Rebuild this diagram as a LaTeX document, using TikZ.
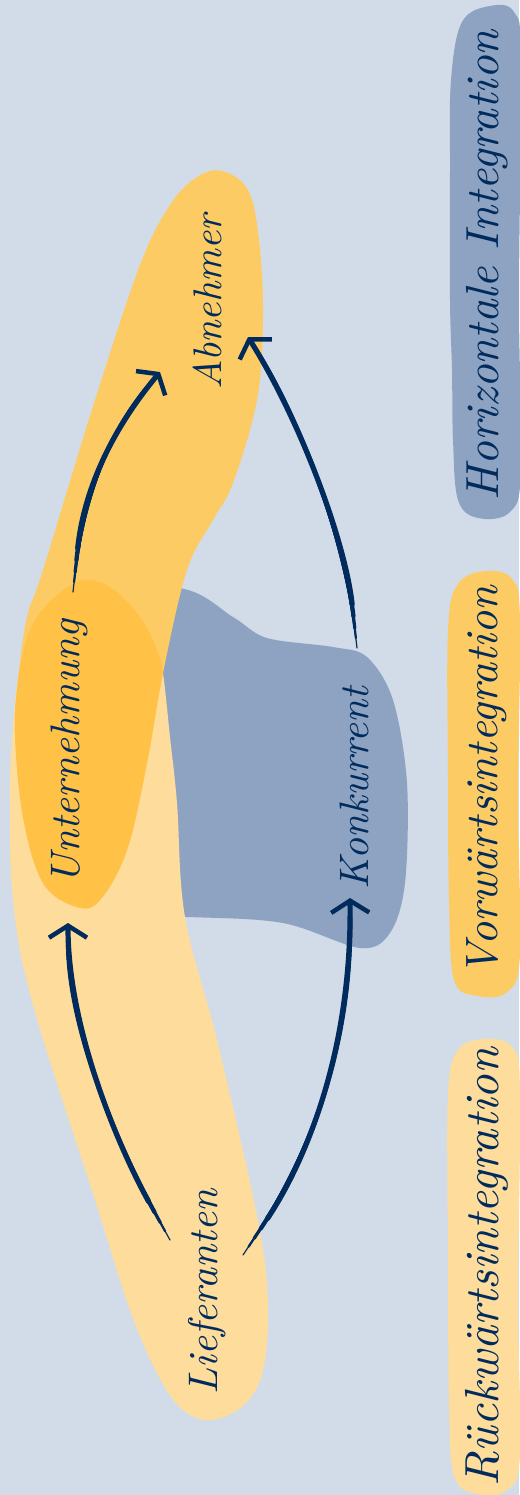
\documentclass[tikz,border=0pt]{standalone}
\usepackage{graphicx}
\usetikzlibrary{arrows.meta}
\definecolor{bgc}{HTML}{D2DCE8}
\definecolor{lorange}{HTML}{FEDC9B}
\definecolor{morange}{HTML}{FDCB64}
\definecolor{dorange}{HTML}{FFC146}
\definecolor{bluec}{HTML}{8DA3C1}
\definecolor{navy}{HTML}{002B5C}
\tikzset{
  lbl/.style={inner sep=0pt, text=navy, rotate=90},
  brush/.style={draw=navy, line cap=round, line join=round},
  tipped/.style={brush, line width=5.2pt, shorten <=44pt,
     -{Straight Barb[length=12pt,width=38pt,line width=4.5pt]}},
  taper/.style n args={2}{brush, line width=#1, shorten <=#2, shorten >=20pt}
}
\newcommand{\vorpath}{plot[smooth cycle, tension=0.6] coordinates {
 (222,171) (248,190) (259,240) (263,317) (257,400) (233,483) (213,520)
 (187,570) (163,673) (147,763) (127,850) (100,900) (77,907) (43,883)
 (23,817) (15,733) (18,680) (27,617) (43,570) (95,400) (140,265) (170,205) (197,177)}}
\newcommand{\ruepath}{plot[smooth cycle, tension=0.6] coordinates {
 (163,673) (157,650) (140,617) (110,587) (77,582) (37,617) (20,667)
 (12,740) (10,800) (13,900) (33,1005) (95,1200) (130,1310) (158,1375)
 (183,1410) (212,1420) (245,1404) (263,1370) (268,1303) (257,1216) (217,1040) (185,917) (177,803) (170,737)}}
\begin{document}
\begin{tikzpicture}[x=1pt,y=-1pt]
\useasboundingbox (0,0) rectangle (519,1495);
\fill[bgc] (0,0) rectangle (519,1495);
% legend blobs
\fill[bluec] plot[smooth cycle, tension=0.6] coordinates {
 (451,80) (462,22) (490,6) (514,12) (521,60) (519,300) (521,470) (510,512)
 (478,518) (458,500) (453,440) (452,370) (450,300) (450,170)};
\fill[morange] plot[smooth cycle, tension=0.6] coordinates {
 (448,630) (458,584) (485,571) (512,579) (520,620) (518,800) (520,955)
 (507,992) (478,996) (454,980) (449,900) (448,780)};
\fill[lorange] plot[smooth cycle, tension=0.6] coordinates {
 (448,1095) (458,1050) (485,1039) (512,1047) (520,1090) (518,1300) (520,1455)
 (507,1490) (478,1494) (454,1476) (449,1400) (448,1250)};
% horizontal shape
\fill[bluec] plot[smooth cycle, tension=0.55] coordinates {
 (60,585) (180,588) (233,617) (267,638) (333,647) (367,657) (393,700)
 (407,783) (405,883) (390,933) (360,948) (283,923) (187,917) (60,915) (25,800)};
% orange shapes
\fill[lorange] \ruepath;
\fill[morange] \vorpath;
\begin{scope}
  \clip \ruepath;
  \fill[dorange] \vorpath;
\end{scope}
% labels
\node[lbl] (abn) at (207,302) {\resizebox{175pt}{!}{\itshape Abnehmer}};
\node[lbl] (unt) at (69,752) {\resizebox{265pt}{!}{\itshape Unternehmung}};
\node[lbl] (kon) at (354,788) {\resizebox{203pt}{!}{\itshape Konkurrent}};
\node[lbl] (lie) at (207,1292) {\resizebox{205pt}{!}{\itshape Lieferanten}};
\node[lbl] (hor) at (487,265) {\resizebox{470pt}{!}{\itshape Horizontale Integration}};
\node[lbl] (vor) at (487,781) {\resizebox{390pt}{!}{\itshape Vorw\"artsintegration}};
\node[lbl] (rue) at (487,1267) {\resizebox{438pt}{!}{\itshape R\"uckw\"artsintegration}};
% arrow end points
\coordinate (a1s) at (73,592);   \coordinate (a1e) at (160,372);
\coordinate (a2s) at (357,648);  \coordinate (a2e) at (248,337);
\coordinate (a3s) at (170,1240); \coordinate (a3e) at (68,923);
\coordinate (a4s) at (243,1255); \coordinate (a4e) at (350,898);
% arrows (tapered brush strokes)
\foreach \w/\s in {1.2pt/0pt, 2.2pt/10pt, 3.2pt/20pt, 4.2pt/32pt}{
  \draw[taper={\w}{\s}] (a1s) .. controls (85,480) and (120,420) .. (a1e);
  \draw[taper={\w}{\s}] (a2s) .. controls (345,540) and (300,420) .. (a2e);
  \draw[taper={\w}{\s}] (a3s) .. controls (120,1150) and (68,1030) .. (a3e);
  \draw[taper={\w}{\s}] (a4s) .. controls (300,1170) and (352,1060) .. (a4e);
}
\draw[tipped] (a1s) .. controls (85,480) and (120,420) .. (a1e);
\draw[tipped] (a2s) .. controls (345,540) and (300,420) .. (a2e);
\draw[tipped] (a3s) .. controls (120,1150) and (68,1030) .. (a3e);
\draw[tipped] (a4s) .. controls (300,1170) and (352,1060) .. (a4e);
\end{tikzpicture}
\end{document}
